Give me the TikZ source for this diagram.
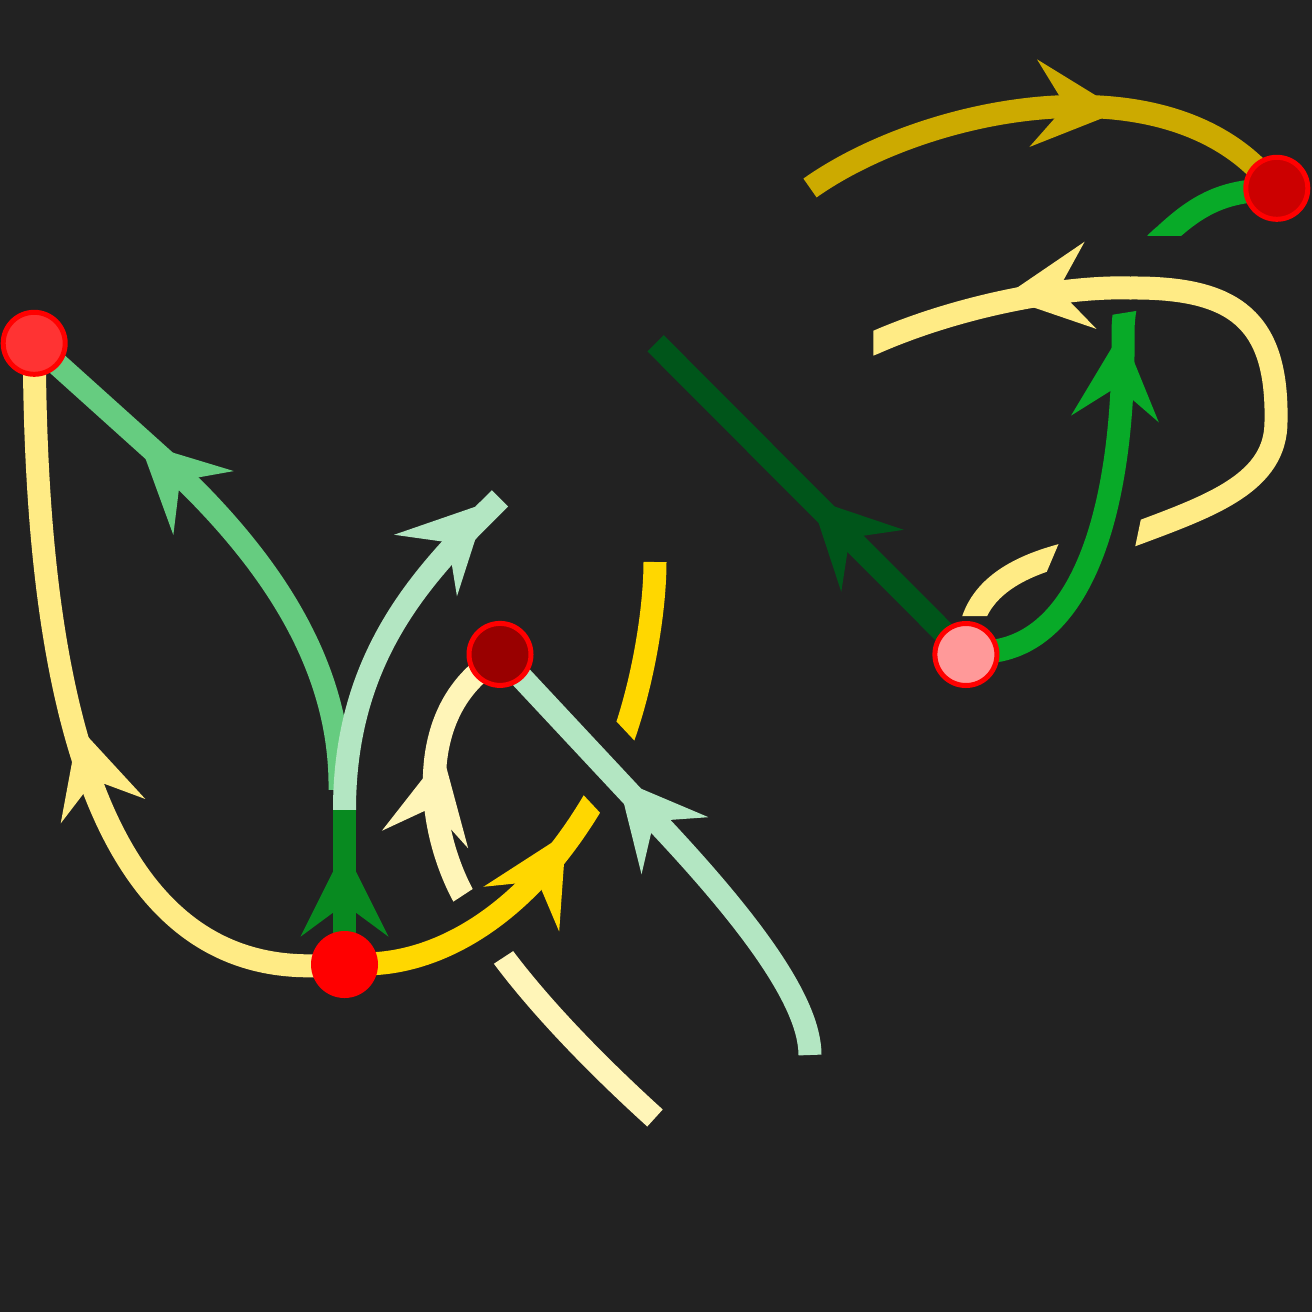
\documentclass[tikz,border=0pt]{standalone}
\definecolor{bgc}{HTML}{222222}
\definecolor{ylw}{HTML}{FFEB85}
\definecolor{pyl}{HTML}{FFF5B8}
\definecolor{gld}{HTML}{FFD700}
\definecolor{dgl}{HTML}{CCAA00}
\definecolor{mgr}{HTML}{66CC80}
\definecolor{lgr}{HTML}{B3E6C2}
\definecolor{bgr}{HTML}{088A20}
\definecolor{grn}{HTML}{08AA28}
\definecolor{dkg}{HTML}{00551A}
\definecolor{nA}{HTML}{FF3333}
\definecolor{nB}{HTML}{FF0000}
\definecolor{nC}{HTML}{990000}
\definecolor{nD}{HTML}{CC0000}
\definecolor{nE}{HTML}{FF9999}
\definecolor{nred}{HTML}{FF0000}
\newcommand{\myarrow}[4]{\fill[#4,shift={(#1,#2)},rotate=#3] (44,0) -- (-44,44) -- (-11.5,0) -- (-44,-44) -- cycle;}
\tikzset{
 strand/.style={line width=23pt, line cap=butt, line join=round},
 anchorpt/.style={circle, minimum size=62pt, inner sep=0pt, outer sep=-6pt},
 dot/.style={circle, minimum size=62pt, inner sep=0pt, draw=nred, line width=5pt},
}
\begin{document}
\begin{tikzpicture}[x=1pt,y=-1pt]
\useasboundingbox (0,0) rectangle (1312,1312);
\fill[bgc] (0,0) rectangle (1312,1312);
% anchor nodes
\node[anchorpt] (A) at (34.2,343.3) {};
\node[anchorpt] (B) at (344.5,964.5) {};
\node[anchorpt] (C) at (500,654.4) {};
\node[anchorpt] (D) at (1276.8,188.3) {};
\node[anchorpt] (E) at (965.9,654.5) {};
\coordinate (fork) at (344.5,810);
\coordinate (mgstart) at (340,790);
\coordinate (mgbend) at (165,461);
\coordinate (lgoneend) at (500,498.3);
\coordinate (pyend) at (655,1118);
\coordinate (gldend) at (655,562);
\coordinate (lgtwoend) at (810,1055);
\coordinate (lgtwobend) at (650,815);
\coordinate (dglstart) at (810,188);
\coordinate (dkend) at (655.6,343.3);
\coordinate (yend) at (860,348.4);

% yellow B -> A
\draw[strand, ylw] (B) .. controls (100,975) and (38,700) .. (A);
\myarrow{90.8}{768.9}{106.1}{ylw}

% medium green fork -> A
\draw[strand, mgr] (mgstart) .. controls (342,650) and (250,540) .. (mgbend) -- (A);
\myarrow{171.6}{472.8}{136.6}{mgr}

% light green fork -> up right
\draw[strand, lgr] (fork) .. controls (344.5,650) and (430,568) .. (lgoneend);
\myarrow{456.3}{534.1}{45.6}{lgr}

% dark green B -> fork
\draw[strand, bgr] (B) -- (fork);
\myarrow{344.5}{892.7}{90}{bgr}

% pale yellow (under gold)
\begin{scope}
\clip (-39.2,1224.1) -- (965.2,566.5) -- (526.8,-103.1) -- (-477.6,554.5) -- cycle;
\draw[strand, pyl] (pyend) .. controls (580,1050) and (510,975) .. (475,915) .. controls (430,850) and (410,730) .. (C);
\end{scope}
\begin{scope}
\clip (-1.4,1288) -- (1003,630.4) -- (1441.4,1300) -- (437,1957.6) -- cycle;
\draw[strand, pyl] (pyend) .. controls (580,1050) and (510,975) .. (475,915) .. controls (430,850) and (410,730) .. (C);
\end{scope}
\myarrow{433.8}{796.4}{78.5}{pyl}

% gold (under light green)
\begin{scope}
\clip (181.3,366.4) -- (1002.1,1241.2) -- (418.9,1788.4) -- (-401.9,913.6) -- cycle;
\draw[strand, gld] (B) .. controls (440,962) and (530,915) .. (600,790) .. controls (637,724) and (655,620) .. (gldend);
\end{scope}
\begin{scope}
\clip (213.6,292.1) -- (1034.4,1166.9) -- (1617.6,619.7) -- (796.8,-255.1) -- cycle;
\draw[strand, gld] (B) .. controls (440,962) and (530,915) .. (600,790) .. controls (637,724) and (655,620) .. (gldend);
\end{scope}
\myarrow{543.7}{871.3}{59.4}{gld}

% light green bottom -> C
\draw[strand, lgr] (lgtwoend) .. controls (810,1000) and (745,915) .. (lgtwobend) -- (C);
\myarrow{646.4}{812.3}{130.5}{lgr}

% dark gold -> D
\draw[strand, dgl] (dglstart) .. controls (920,110) and (1150,60) .. (D);
\myarrow{1077}{107}{-5}{dgl}

% dark green E -> up left
\draw[strand, dkg] (E) -- (dkend);
\myarrow{841.5}{529.6}{134.8}{dkg}

% green E -> D (under yellow loop)
\begin{scope}
\clip (700,380.8) -- (1312,282.8) -- (1312,1312) -- (700,1312) -- cycle;
\draw[strand, grn] (E) .. controls (1090,640) and (1125,490) .. (1123,330) .. controls (1124,290) and (1140,255) .. (1165,235) .. controls (1192,210) and (1215,195) .. (D);
\end{scope}
\begin{scope}
\clip (700,0) -- (1312,0) -- (1312,235) -- (700,235) -- cycle;
\draw[strand, grn] (E) .. controls (1090,640) and (1125,490) .. (1123,330) .. controls (1124,290) and (1140,255) .. (1165,235) .. controls (1192,210) and (1215,195) .. (D);
\end{scope}
\myarrow{1118.3}{375.1}{85.6}{grn}

% yellow loop from E (under green)
\begin{scope}
\clip (700,500) -- (1077.2,500) -- (1028,616) -- (700,616) -- cycle;
\draw[strand, ylw] (E) .. controls (978,590) and (1014,569.6) .. (1052,558) .. controls (1080.5,549.3) and (1109.8,543.5) .. (1138,533) .. controls (1213,505) and (1276,482) .. (1276,421.7) .. controls (1278,320) and (1235,287) .. (1130,288) .. controls (1065,286) and (960,305) .. (873.3,343.3) -- (yend);
\end{scope}
\begin{scope}
\clip (873.3,0) -- (1312,0) -- (1312,1312) -- (975.7,1312) -- (1144.9,500) -- (873.3,500) -- cycle;
\draw[strand, ylw] (E) .. controls (978,590) and (1014,569.6) .. (1052,558) .. controls (1080.5,549.3) and (1109.8,543.5) .. (1138,533) .. controls (1213,505) and (1276,482) .. (1276,421.7) .. controls (1278,320) and (1235,287) .. (1130,288) .. controls (1065,286) and (960,305) .. (873.3,343.3) -- (yend);
\end{scope}
\myarrow{1046.9}{291.2}{187.7}{ylw}

% visible nodes
\node[dot, fill=nA] (Adot) at (A) {};
\node[dot, fill=nB, draw=nB] (Bdot) at (B) {};
\node[dot, fill=nC] (Cdot) at (C) {};
\node[dot, fill=nD] (Ddot) at (D) {};
\node[dot, fill=nE] (Edot) at (E) {};
\end{tikzpicture}
\end{document}
